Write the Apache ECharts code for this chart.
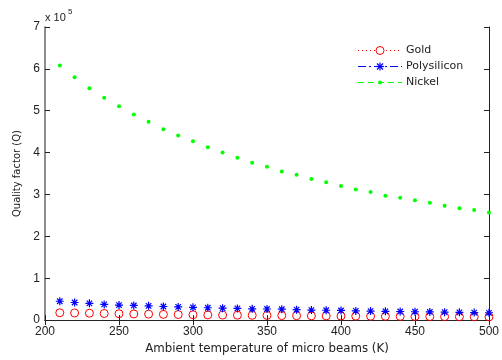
<!DOCTYPE html>
<html>
<head>
<meta charset="utf-8">
<script src="https://cdn.jsdelivr.net/npm/echarts@6/dist/echarts.min.js"></script>
<style>html,body{margin:0;padding:0;background:#fff;}#c{width:502px;height:360px;}</style>
</head>
<body>
<div id="c"></div>
<script>
var temps = [210,220,230,240,250,260,270,280,290,300,310,320,330,340,350,360,370,380,390,400,410,420,430,440,450,460,470,480,490,500];
var gold = [0.175,0.17,0.165,0.158,0.152,0.147,0.142,0.137,0.132,0.128,0.124,0.12,0.117,0.114,0.111,0.108,0.105,0.102,0.1,0.097,0.095,0.093,0.091,0.089,0.087,0.085,0.083,0.081,0.079,0.077];
var poly = [0.45,0.42,0.40,0.375,0.36,0.35,0.34,0.325,0.315,0.305,0.295,0.285,0.28,0.27,0.265,0.26,0.25,0.24,0.235,0.23,0.22,0.215,0.21,0.205,0.20,0.195,0.19,0.185,0.18,0.175];
var nickel = [6.08,5.80,5.54,5.31,5.11,4.91,4.74,4.56,4.41,4.27,4.13,4.00,3.88,3.76,3.66,3.55,3.47,3.37,3.29,3.20,3.12,3.06,2.97,2.92,2.86,2.80,2.73,2.67,2.63,2.57];
var seriesNames = ['Gold','Polysilicon','Nickel'];
var yScale = 1e5;

function pairs(vals){ return temps.map(function(t,i){ return [t, vals[i]*yScale]; }); }

var starPath = 'path://M5,0L5,10M0,5L10,5M1.6,1.6L8.4,8.4M1.6,8.4L8.4,1.6';
var font = 'Liberation Sans, Arial, sans-serif';
var wfont = 'DejaVu Sans, sans-serif';
var chart = echarts.init(document.getElementById('c'), null, {renderer:'canvas'});
var axisCommon = {
  axisLine:{show:true, lineStyle:{color:'#222', width:1}},
  axisTick:{show:true, inside:true, length:5, lineStyle:{color:'#222'}},
  splitLine:{show:false}
};

// legend drawn as graphic elements (line style + marker + text)
var legX = 358, legW = 44, legRows = [50.5, 66.5, 82.5];
var legStyles = [
  {color:'#ff0000', dash:[1,3], sym:'circle'},
  {color:'#0000ff', dash:[8,3,2,3], sym:'star'},
  {color:'#00ff00', dash:[6,4], sym:'dot'}
];
var legendGraphics = [];
seriesNames.forEach(function(n, i){
  var y = legRows[i], s = legStyles[i], cx = legX + legW/2;
  legendGraphics.push({type:'line', shape:{x1:legX, y1:y, x2:legX+legW, y2:y},
    style:{stroke:s.color, lineWidth:1, lineDash:s.dash}});
  if (s.sym === 'circle') {
    legendGraphics.push({type:'circle', shape:{cx:cx, cy:y, r:4}, style:{fill:'#fff', stroke:s.color, lineWidth:1}});
  } else if (s.sym === 'star') {
    legendGraphics.push({type:'polyline', shape:{points:[[cx,y-4],[cx,y+4]]}, style:{stroke:s.color, lineWidth:1.2}});
    legendGraphics.push({type:'polyline', shape:{points:[[cx-4,y],[cx+4,y]]}, style:{stroke:s.color, lineWidth:1.2}});
    legendGraphics.push({type:'polyline', shape:{points:[[cx-3,y-3],[cx+3,y+3]]}, style:{stroke:s.color, lineWidth:1.2}});
    legendGraphics.push({type:'polyline', shape:{points:[[cx-3,y+3],[cx+3,y-3]]}, style:{stroke:s.color, lineWidth:1.2}});
  } else {
    legendGraphics.push({type:'circle', shape:{cx:cx, cy:y, r:2}, style:{fill:s.color}});
  }
  legendGraphics.push({type:'text', x:legX+legW+4, y:y, style:{text:n, fontSize:11, fontFamily:wfont, fill:'#222', verticalAlign:'middle'}});
});

chart.setOption({
  animation:false,
  backgroundColor:'#fff',
  grid:{left:45, right:13, top:27, bottom:34.5},
  xAxis:[
    Object.assign({type:'value', min:200, max:500, interval:50, position:'bottom',
      axisLabel:{color:'#222', fontSize:12, fontFamily:font, margin:6},
      name:'Ambient temperature of micro beams (K)', nameLocation:'middle', nameGap:16,
      nameTextStyle:{color:'#222', fontSize:11.8, fontFamily:wfont}}, axisCommon),
    Object.assign({type:'value', min:200, max:500, interval:50, position:'top',
      axisLabel:{show:false}}, axisCommon)
  ],
  yAxis:[
    Object.assign({type:'value', min:0, max:7*yScale, interval:yScale, position:'left',
      axisLabel:{color:'#222', fontSize:12, fontFamily:font, margin:5,
        formatter:function(v){ return String(Math.round(v/yScale)); }},
      name:'Quality factor (Q)', nameLocation:'middle', nameGap:23,
      nameTextStyle:{color:'#222', fontSize:10, fontFamily:wfont}}, axisCommon,
      {axisLine:{show:true, lineStyle:{color:'#666', width:1.5}}}),
    Object.assign({type:'value', min:0, max:7*yScale, interval:yScale, position:'right',
      axisLabel:{show:false}}, axisCommon)
  ],
  legend:{show:false, data:seriesNames},
  graphic:[
    {type:'text', left:45, top:12, style:{text:'x 10', fontSize:11, fontFamily:font, fill:'#222'}},
    {type:'text', left:68, top:8, style:{text:'5', fontSize:8, fontFamily:font, fill:'#222'}}
  ].concat(legendGraphics),
  series:[
    {name:seriesNames[0], type:'line', data:pairs(gold), symbol:'circle', symbolSize:8,
      itemStyle:{color:'rgba(0,0,0,0)', borderColor:'#ff0000', borderWidth:1},
      lineStyle:{opacity:0}, z:3},
    {name:seriesNames[1], type:'line', data:pairs(poly), symbol:starPath, symbolSize:8,
      itemStyle:{color:'#0000ff', borderColor:'#0000ff', borderWidth:1.2},
      lineStyle:{opacity:0}, z:4},
    {name:seriesNames[2], type:'line', data:pairs(nickel), symbol:'circle', symbolSize:4,
      itemStyle:{color:'#00ff00', borderColor:'#00ff00', borderWidth:0},
      lineStyle:{opacity:0}, z:5}
  ]
});
</script>
</body>
</html>
